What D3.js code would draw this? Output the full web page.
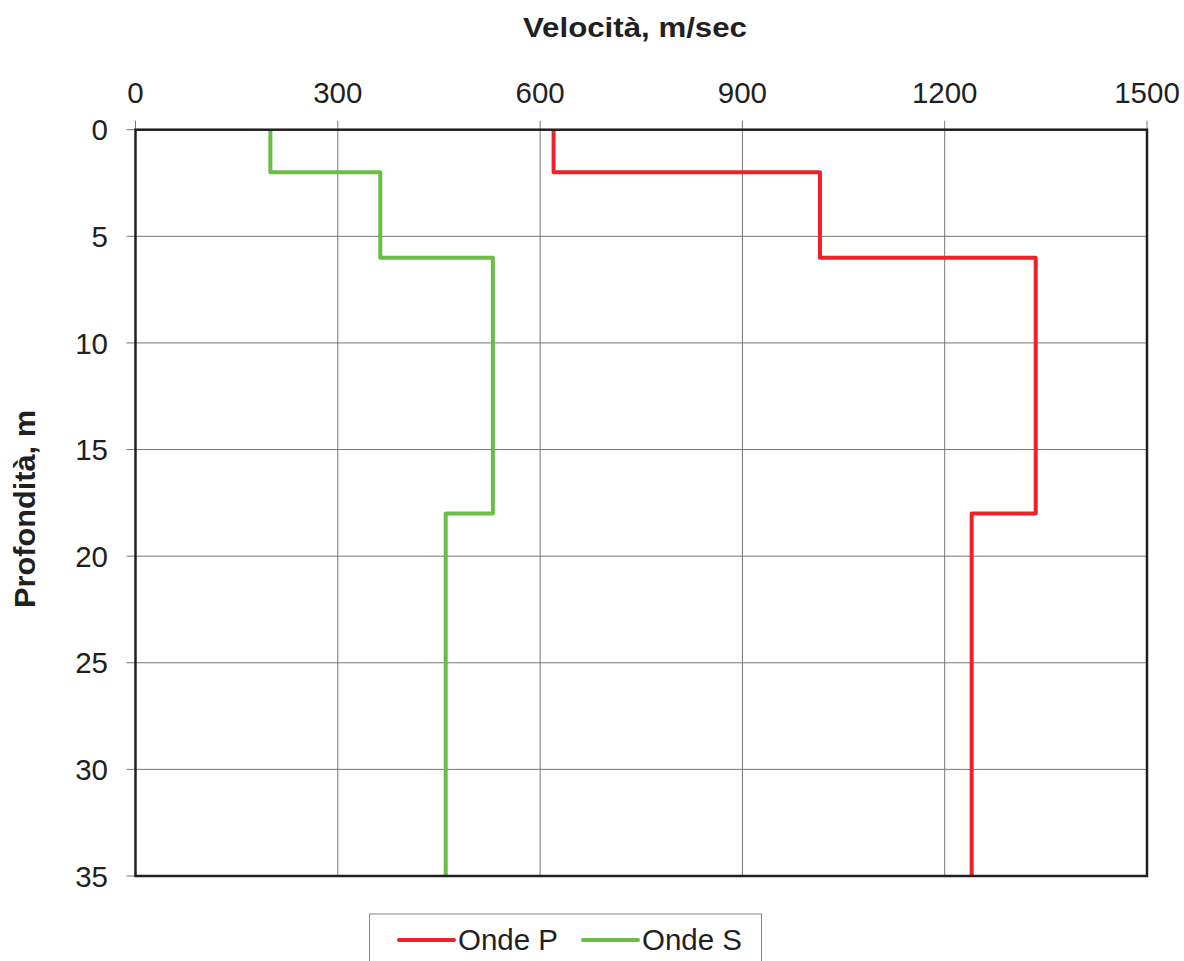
<!DOCTYPE html>
<html>
<head>
<meta charset="utf-8">
<script src="https://cdn.jsdelivr.net/npm/d3@7"></script>
<style>
  html, body { margin: 0; padding: 0; background: #fff; }
  svg { display: block; font-family: "Liberation Sans", Arial, sans-serif; }
</style>
</head>
<body>
<svg id="chart" width="1184" height="961"></svg>
<script>
// Velocity profiles: each layer as [top depth, bottom depth, velocity]
const depthBreaks = [0, 2, 6, 18, 35];
const velocityP = [620, 1015, 1335, 1240];
const velocityS = [200, 363, 530, 460];
const seriesNames = ["Onde P", "Onde S"];
const seriesColors = ["#ED2229", "#6BBD45"];
const xTicks = [0, 300, 600, 900, 1200, 1500];
const yTicks = [0, 5, 10, 15, 20, 25, 30, 35];

const svg = d3.select("#chart");
const plot = { left: 135.5, right: 1147, top: 129.7, bottom: 876 };

const x = d3.scaleLinear().domain([0, 1500]).range([plot.left, plot.right]);
const y = d3.scaleLinear().domain([0, 35]).range([plot.top, plot.bottom]);

// Grid lines
const grid = svg.append("g");
grid.selectAll("line.vx").data(xTicks).join("line")
  .attr("x1", d => x(d)).attr("x2", d => x(d))
  .attr("y1", plot.top - 9).attr("y2", plot.bottom)
  .attr("stroke", "#777").attr("stroke-width", 1);
grid.selectAll("line.hy").data(yTicks).join("line")
  .attr("x1", plot.left - 9).attr("x2", plot.right)
  .attr("y1", d => y(d)).attr("y2", d => y(d))
  .attr("stroke", "#777").attr("stroke-width", 1);

// Top velocity axis labels
svg.append("g").selectAll("text").data(xTicks).join("text")
  .attr("x", d => x(d)).attr("y", 103)
  .attr("text-anchor", "middle")
  .attr("font-size", 29.5).attr("fill", "#231f20")
  .text(d => d);

// Left depth axis labels
svg.append("g").selectAll("text").data(yTicks).join("text")
  .attr("x", 108).attr("y", d => y(d))
  .attr("dy", "0.36em")
  .attr("text-anchor", "end")
  .attr("font-size", 29.5).attr("fill", "#231f20")
  .text(d => d);

// Step profile builder
function stepPoints(vals) {
  const pts = [];
  vals.forEach((v, i) => {
    pts.push([v, depthBreaks[i]]);
    pts.push([v, depthBreaks[i + 1]]);
  });
  return pts;
}
const line = d3.line().x(d => x(d[0])).y(d => y(d[1]));

[velocityP, velocityS].forEach((vals, i) => {
  svg.append("path")
    .datum(stepPoints(vals))
    .attr("d", line)
    .attr("fill", "none")
    .attr("stroke", seriesColors[i])
    .attr("stroke-width", 4)
    .attr("stroke-linejoin", "round");
});

// Plot frame
svg.append("rect")
  .attr("x", plot.left).attr("y", plot.top)
  .attr("width", plot.right - plot.left).attr("height", plot.bottom - plot.top)
  .attr("fill", "none").attr("stroke", "#231f20").attr("stroke-width", 2.5);

// Axis titles
svg.append("text")
  .attr("x", 635).attr("y", 37)
  .attr("text-anchor", "middle")
  .attr("font-size", 27).attr("font-weight", "bold").attr("fill", "#231f20")
  .attr("textLength", 224).attr("lengthAdjust", "spacingAndGlyphs")
  .text("Velocità, m/sec");

svg.append("text")
  .attr("transform", "translate(35,509) rotate(-90)")
  .attr("text-anchor", "middle")
  .attr("font-size", 29).attr("font-weight", "bold").attr("fill", "#231f20")
  .attr("textLength", 198).attr("lengthAdjust", "spacingAndGlyphs")
  .text("Profondità, m");

// Legend
const legend = svg.append("g");
legend.append("rect")
  .attr("x", 369.5).attr("y", 914).attr("width", 392).attr("height", 60)
  .attr("fill", "#fff").attr("stroke", "#888").attr("stroke-width", 1);
const legendX = [399, 583];
seriesNames.forEach((name, i) => {
  legend.append("line")
    .attr("x1", legendX[i]).attr("x2", legendX[i] + 55)
    .attr("y1", 940).attr("y2", 940)
    .attr("stroke", seriesColors[i]).attr("stroke-width", 4)
    .attr("stroke-linecap", "round");
  legend.append("text")
    .attr("x", legendX[i] + 59).attr("y", 950)
    .attr("font-size", 29.5).attr("fill", "#231f20")
    .text(name);
});
</script>
</body>
</html>
